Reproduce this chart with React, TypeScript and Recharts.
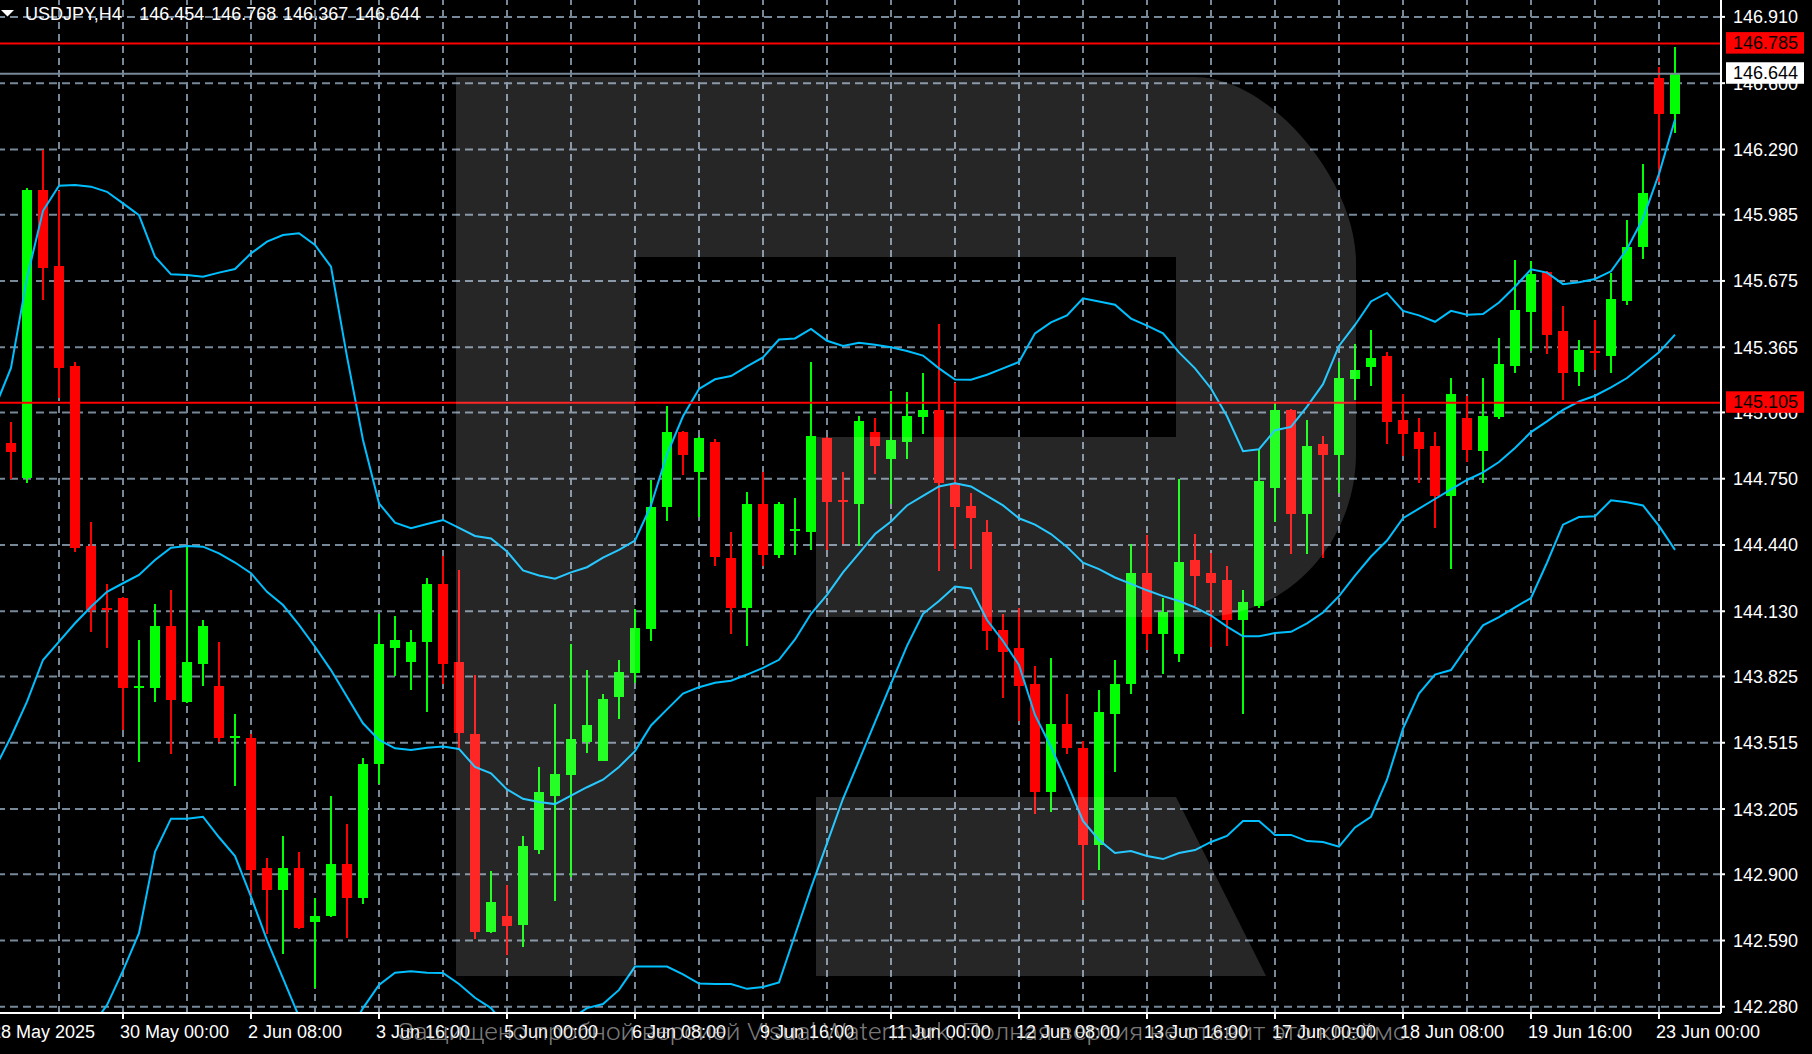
import { ComposedChart, Bar, Line, XAxis, YAxis, ReferenceLine } from "recharts";

// USDJPY H4 bars, 28 May 20:00 .. 23 Jun 04:00
const open = [
  144.916, 144.755, 146.1, 145.745, 145.277, 144.437, 144.143, 144.191, 143.774, 143.773,
  144.061, 143.706, 143.885, 143.78, 143.54, 143.537, 142.929, 142.826, 142.929, 142.677,
  142.705, 142.948, 142.789, 143.416, 143.958, 143.893, 143.986, 144.257, 143.894, 143.557,
  142.632, 142.704, 142.662, 143.014, 143.268, 143.363, 143.518, 143.431, 143.727, 143.84,
  144.046, 144.616, 144.968, 144.78, 144.92, 144.38, 144.145, 144.631, 144.392, 144.509,
  144.5, 144.941, 144.648, 144.634, 144.968, 144.84, 144.923, 145.037, 145.072, 144.729,
  144.622, 144.5, 144.043, 143.96, 143.79, 143.286, 143.602, 143.491, 143.035, 143.649,
  143.79, 144.309, 144.025, 143.93, 144.368, 144.309, 144.276, 144.088, 144.156, 144.706,
  145.072, 144.586, 144.911, 144.86, 145.215, 145.272, 145.323, 145.025, 144.968, 144.903,
  144.67, 145.033, 144.879, 145.037, 145.278, 145.529, 145.717, 145.442, 145.251, 145.343,
  145.326, 145.579, 145.833, 146.623, 146.454,
];
const high = [
  145.014, 146.108, 146.287, 146.096, 145.294, 144.546, 144.257, 144.195, 143.996, 144.164,
  144.229, 144.44, 144.089, 143.986, 143.649, 143.556, 142.976, 143.079, 143.004, 142.789,
  143.266, 143.135, 143.444, 144.117, 144.108, 144.042, 144.286, 144.388, 144.321, 143.834,
  142.916, 142.85, 143.08, 143.402, 143.694, 143.978, 143.855, 143.745, 143.903, 144.142,
  144.744, 145.09, 144.972, 144.947, 144.938, 144.5, 144.688, 144.78, 144.641, 144.661,
  145.296, 144.947, 144.78, 145.042, 145.033, 145.162, 145.156, 145.245, 145.475, 145.198,
  144.685, 144.556, 144.118, 144.145, 143.873, 143.912, 143.742, 143.521, 143.76, 143.903,
  144.443, 144.488, 144.192, 144.75, 144.491, 144.401, 144.342, 144.228, 144.884, 145.102,
  145.075, 145.025, 144.95, 145.296, 145.38, 145.445, 145.341, 145.144, 145.033, 144.968,
  145.221, 145.138, 145.221, 145.41, 145.773, 145.77, 145.722, 145.559, 145.397, 145.49,
  145.714, 145.961, 146.221, 146.677, 146.768,
];
const low = [
  144.747, 144.728, 145.586, 145.129, 144.409, 144.034, 143.96, 143.575, 143.426, 143.707,
  143.462, 143.7, 143.782, 143.518, 143.313, 142.803, 142.62, 142.527, 142.645, 142.368,
  142.7, 142.602, 142.761, 143.322, 143.827, 143.762, 143.659, 143.79, 143.491, 142.597,
  142.627, 142.522, 142.561, 142.996, 142.775, 142.889, 143.467, 143.428, 143.626, 143.796,
  143.989, 144.55, 144.765, 144.571, 144.342, 144.022, 143.968, 144.342, 144.38, 144.392,
  144.416, 144.416, 144.446, 144.437, 144.774, 144.631, 144.84, 144.959, 144.318, 144.422,
  144.327, 143.948, 143.724, 143.617, 143.184, 143.193, 143.461, 142.781, 142.919, 143.378,
  143.742, 143.948, 143.837, 143.894, 144.154, 143.963, 143.968, 143.649, 144.147, 144.547,
  144.398, 144.398, 144.38, 144.682, 145.117, 145.183, 144.911, 144.855, 144.729, 144.52,
  144.327, 144.828, 144.729, 145.027, 145.243, 145.347, 145.335, 145.117, 145.183, 145.258,
  145.243, 145.562, 145.776, 146.14, 146.367,
];
const close = [
  144.876, 146.1, 145.737, 145.269, 144.427, 144.136, 144.138, 143.773, 143.778, 144.061,
  143.715, 143.893, 144.061, 143.537, 143.544, 142.92, 142.826, 142.929, 142.648, 142.705,
  142.948, 142.789, 143.416, 143.977, 143.996, 143.986, 144.257, 143.883, 143.56, 142.632,
  142.77, 142.656, 143.032, 143.283, 143.369, 143.533, 143.599, 143.721, 143.846, 144.052,
  144.619, 144.968, 144.86, 144.941, 144.383, 144.145, 144.631, 144.392, 144.631, 144.513,
  144.95, 144.64, 144.644, 145.018, 144.903, 144.932, 145.042, 145.072, 144.729, 144.616,
  144.565, 144.037, 143.939, 143.781, 143.286, 143.602, 143.491, 143.035, 143.658, 143.79,
  144.309, 144.025, 144.127, 144.359, 144.297, 144.261, 144.088, 144.175, 144.738, 145.072,
  144.586, 144.903, 144.86, 145.221, 145.258, 145.314, 145.016, 144.959, 144.888, 144.67,
  145.147, 144.884, 145.042, 145.287, 145.538, 145.707, 145.421, 145.243, 145.35, 145.339,
  145.591, 145.836, 146.086, 146.454, 146.644,
];

// Bollinger bands; first value belongs to the bar just left of the window
const bbUpper = [
  145.084,
  145.268, 145.689, 146.003, 146.12, 146.124, 146.116, 146.092, 146.038, 145.983, 145.788,
  145.706, 145.703, 145.695, 145.714, 145.731, 145.804, 145.859, 145.89, 145.898, 145.843,
  145.742, 145.321, 144.931, 144.635, 144.544, 144.518, 144.538, 144.557, 144.52, 144.482,
  144.47, 144.41, 144.321, 144.297, 144.282, 144.312, 144.336, 144.381, 144.417, 144.461,
  144.625, 144.864, 145.042, 145.17, 145.215, 145.23, 145.275, 145.317, 145.401, 145.406,
  145.451, 145.395, 145.371, 145.386, 145.377, 145.365, 145.347, 145.326, 145.266, 145.214,
  145.213, 145.236, 145.266, 145.296, 145.43, 145.481, 145.514, 145.594, 145.579, 145.564,
  145.499, 145.466, 145.43, 145.341, 145.266, 145.172, 145.042, 144.879, 144.888, 144.977,
  144.992, 145.087, 145.192, 145.371, 145.469, 145.579, 145.619, 145.535, 145.514, 145.484,
  145.535, 145.517, 145.52, 145.574, 145.648, 145.729, 145.714, 145.66, 145.669, 145.684,
  145.72, 145.824, 145.967, 146.176, 146.43,
];
const bbMiddle = [
  143.396,
  143.543, 143.707, 143.902, 143.988, 144.074, 144.151, 144.221, 144.261, 144.3, 144.37,
  144.427, 144.435, 144.432, 144.401, 144.358, 144.308, 144.221, 144.159, 144.066, 143.964,
  143.855, 143.73, 143.606, 143.528, 143.489, 143.481, 143.492, 143.497, 143.486, 143.402,
  143.372, 143.297, 143.253, 143.238, 143.228, 143.268, 143.307, 143.342, 143.402, 143.476,
  143.596, 143.671, 143.745, 143.775, 143.796, 143.805, 143.834, 143.865, 143.903, 143.998,
  144.118, 144.207, 144.312, 144.401, 144.491, 144.55, 144.625, 144.67, 144.714, 144.729,
  144.714, 144.67, 144.625, 144.565, 144.535, 144.491, 144.431, 144.357, 144.327, 144.288,
  144.258, 144.228, 144.201, 144.178, 144.148, 144.11, 144.058, 144.013, 144.013, 144.028,
  144.034, 144.073, 144.124, 144.201, 144.297, 144.386, 144.461, 144.565, 144.61, 144.655,
  144.7, 144.744, 144.78, 144.828, 144.894, 144.968, 145.018, 145.072, 145.111, 145.138,
  145.177, 145.221, 145.281, 145.341, 145.424,
];
const bbLower = [
  141.708,
  141.821, 141.727, 141.802, 141.853, 142.022, 142.185, 142.288, 142.449, 142.624, 143.005,
  143.16, 143.16, 143.169, 143.073, 142.985, 142.795, 142.592, 142.413, 142.234, 142.087,
  141.97, 142.14, 142.274, 142.382, 142.439, 142.446, 142.439, 142.438, 142.387, 142.322,
  142.274, 142.185, 142.185, 142.179, 142.176, 142.224, 142.274, 142.293, 142.359, 142.468,
  142.468, 142.468, 142.432, 142.389, 142.387, 142.387, 142.364, 142.373, 142.394, 142.616,
  142.836, 143.044, 143.253, 143.431, 143.611, 143.79, 143.968, 144.118, 144.178, 144.246,
  144.237, 144.089, 143.991, 143.879, 143.645, 143.495, 143.327, 143.149, 143.06, 142.999,
  143.009, 142.985, 142.971, 142.999, 143.013, 143.051, 143.079, 143.149, 143.149, 143.084,
  143.084, 143.055, 143.051, 143.029, 143.119, 143.169, 143.342, 143.581, 143.745, 143.834,
  143.855, 143.963, 144.064, 144.103, 144.148, 144.192, 144.357, 144.535, 144.571, 144.574,
  144.649, 144.64, 144.625, 144.529, 144.417,
];

const xTickIndex = [0, 7, 15, 23, 31, 39, 47, 55, 63, 71, 79, 87, 95, 103];
const xTickText = [
  "28 May 2025", "30 May 00:00", "2 Jun 08:00", "3 Jun 16:00", "5 Jun 00:00", "6 Jun 08:00",
  "9 Jun 16:00", "11 Jun 00:00", "12 Jun 08:00", "13 Jun 16:00", "17 Jun 00:00",
  "18 Jun 08:00", "19 Jun 16:00", "23 Jun 00:00",
];
const gridColumns = [3, 7, 11, 15, 19, 23, 27, 31, 35, 39, 43, 47, 51, 55, 59, 63, 67, 71, 75, 79, 83, 87, 91, 95, 99, 103];
const yTickText = [
  "146.910", "146.600", "146.290", "145.985", "145.675", "145.365", "145.060", "144.750",
  "144.440", "144.130", "143.825", "143.515", "143.205", "142.900", "142.590", "142.280",
];
const levels = [146.785, 145.105];

const symbol = "USDJPY,H4";
const watermark = "Защищено пробной версией Visual Watermark. Полная версия не ставит это клеймо.";

const W = 1812;
const H = 1054;
const FONT = '"Liberation Sans", Arial, sans-serif';
const FS = 18;
const GRID = "#778899";
const last = close.length - 1;
const bid = close[last];

const yTickValues = yTickText.map(Number);
const tags = [
  { price: levels[0], fill: "#ff0000" },
  { price: bid, fill: "#ffffff" },
  { price: levels[1], fill: "#ff0000" },
];

// row for bar -1 carries only the band values
const data = bbUpper.map((upper, k) => {
  const i = k - 1;
  return {
    i,
    o: i >= 0 ? open[i] : null,
    h: i >= 0 ? high[i] : null,
    l: i >= 0 ? low[i] : null,
    c: i >= 0 ? close[i] : null,
    upper,
    middle: bbMiddle[k],
    lower: bbLower[k],
  };
});

function Candle(props: any) {
  const { x, y, width, height, payload } = props;
  if (x == null || y == null || payload.o == null) return null;
  const { o, h, l, c } = payload;
  const color = c >= o ? "#00ff00" : "#ff0000";
  const cx = Math.round(x + width / 2);
  const span = h - l || 1e-9;
  const toY = (v: number) => y + ((h - v) / span) * height;
  let top = Math.round(toY(Math.max(o, c)));
  let bottom = Math.round(toY(Math.min(o, c)));
  if (bottom - top < 2) {
    const mid = Math.round((toY(o) + toY(c)) / 2);
    top = mid - 1;
    bottom = mid + 1;
  }
  const wTop = Math.round(y);
  const wBot = Math.max(wTop + 2, Math.round(y + height));
  return (
    <g>
      <rect x={cx - 1} y={wTop} width={2} height={wBot - wTop} fill={color} />
      <rect x={cx - 5} y={top} width={10} height={bottom - top} fill={color} />
    </g>
  );
}

function PriceTick(props: any) {
  const { x, y, payload } = props;
  const v = payload.value as number;
  const tag = tags.find((t) => t.price === v);
  if (tag) {
    return (
      <g>
        <rect x={x + 5} y={y - 11.5} width={78} height={21.5} fill={tag.fill} />
        <text x={x + 12} y={y + 5.5} fill="#000" fontSize={FS} fontFamily={FONT}>
          {v.toFixed(3)}
        </text>
      </g>
    );
  }
  const k = yTickValues.indexOf(v);
  return (
    <g>
      <line x1={x} x2={x + 4} y1={y} y2={y} stroke="#fff" strokeWidth={2} />
      <text x={x + 12} y={y + 6.5} fill="#fff" fontSize={FS} fontFamily={FONT}>
        {yTickText[k]}
      </text>
    </g>
  );
}

function TimeTick(props: any) {
  const { x, y, payload } = props;
  const k = xTickIndex.indexOf(payload.value);
  if (k < 0) return null;
  const first = k === 0;
  return (
    <g>
      {!first && <line x1={x} x2={x} y1={y} y2={y + 6} stroke="#fff" strokeWidth={2} />}
      <text x={first ? x - 20 : x - 3} y={y + 24.5} fill="#fff" fontSize={FS} fontFamily={FONT}>
        {xTickText[k]}
      </text>
    </g>
  );
}

export default function App() {
  const ohlc = [open[last], high[last], low[last], close[last]];
  const logo = "rgba(255,255,255,0.15)";
  return (
    <div style={{ position: "fixed", left: 0, top: 0, width: W, height: H, background: "#000", overflow: "hidden" }}>
      <ComposedChart width={W} height={H} data={data} margin={{ top: 0, right: 0, bottom: 0, left: 0 }}>
        <XAxis
          dataKey="i"
          type="number"
          domain={[-0.6875, 106.875]}
          allowDataOverflow
          ticks={xTickIndex}
          interval={0}
          height={41}
          tickSize={0}
          tickMargin={0}
          tickLine={false}
          axisLine={{ stroke: "#fff", strokeWidth: 2 }}
          tick={<TimeTick />}
        />
        <YAxis
          orientation="right"
          type="number"
          domain={[142.251, 146.989]}
          allowDataOverflow
          ticks={[...yTickValues, ...tags.map((t) => t.price)]}
          interval={0}
          width={91}
          tickSize={0}
          tickMargin={0}
          tickLine={false}
          axisLine={{ stroke: "#fff", strokeWidth: 2 }}
          tick={<PriceTick />}
        />
        {yTickValues.map((v) => (
          <ReferenceLine key={"h" + v} y={v} stroke={GRID} strokeWidth={2} strokeDasharray="8 5" zIndex={-100} />
        ))}
        {gridColumns.map((v) => (
          <ReferenceLine key={"v" + v} x={v} stroke={GRID} strokeWidth={2} strokeDasharray="7 5" zIndex={-100} />
        ))}
        <Bar
          dataKey={(d: any) => (d.o == null ? null : [d.l, d.h])}
          barSize={10}
          shape={<Candle />}
          isAnimationActive={false}
        />
        <Line dataKey="upper" stroke="#00bfff" strokeWidth={2} dot={false} activeDot={false} isAnimationActive={false} />
        <Line dataKey="middle" stroke="#00bfff" strokeWidth={2} dot={false} activeDot={false} isAnimationActive={false} />
        <Line dataKey="lower" stroke="#00bfff" strokeWidth={2} dot={false} activeDot={false} isAnimationActive={false} />
        {levels.map((v) => (
          <ReferenceLine key={"l" + v} y={v} stroke="#ff0000" strokeWidth={2} />
        ))}
        <ReferenceLine y={bid} stroke={GRID} strokeWidth={2} />
      </ComposedChart>
      <svg width={W} height={H} style={{ position: "absolute", left: 0, top: 0, pointerEvents: "none" }}>
        <path
          d="M456 77 H1195 C1270 77 1356 180 1356 262 V454 C1356 540 1290 617 1200 617 H816 V437 H1176 V257 H635 V976 H456 Z"
          fill={logo}
        />
        <path d="M816 797 H1176 L1266 976 H816 Z" fill={logo} />
        <polygon points="1,10 14,10 7.5,16.5" fill="#fff" />
        <text x={25} y={20} fill="#fff" fontSize={FS} fontFamily={FONT}>
          {symbol}
        </text>
        {ohlc.map((v, k) => (
          <text key={k} x={139.3 + k * 71.9} y={20} fill="#fff" fontSize={FS} fontFamily={FONT}>
            {v.toFixed(3)}
          </text>
        ))}
        <text
          x={398}
          y={1040}
          textLength={1016}
          lengthAdjust="spacingAndGlyphs"
          fill="rgb(200,200,200)"
          fillOpacity={0.62}
          fontSize={23}
          fontWeight={300}
          fontFamily={'Roboto, "Open Sans", "Liberation Sans", Arial, sans-serif'}
        >
          {watermark}
        </text>
      </svg>
    </div>
  );
}
